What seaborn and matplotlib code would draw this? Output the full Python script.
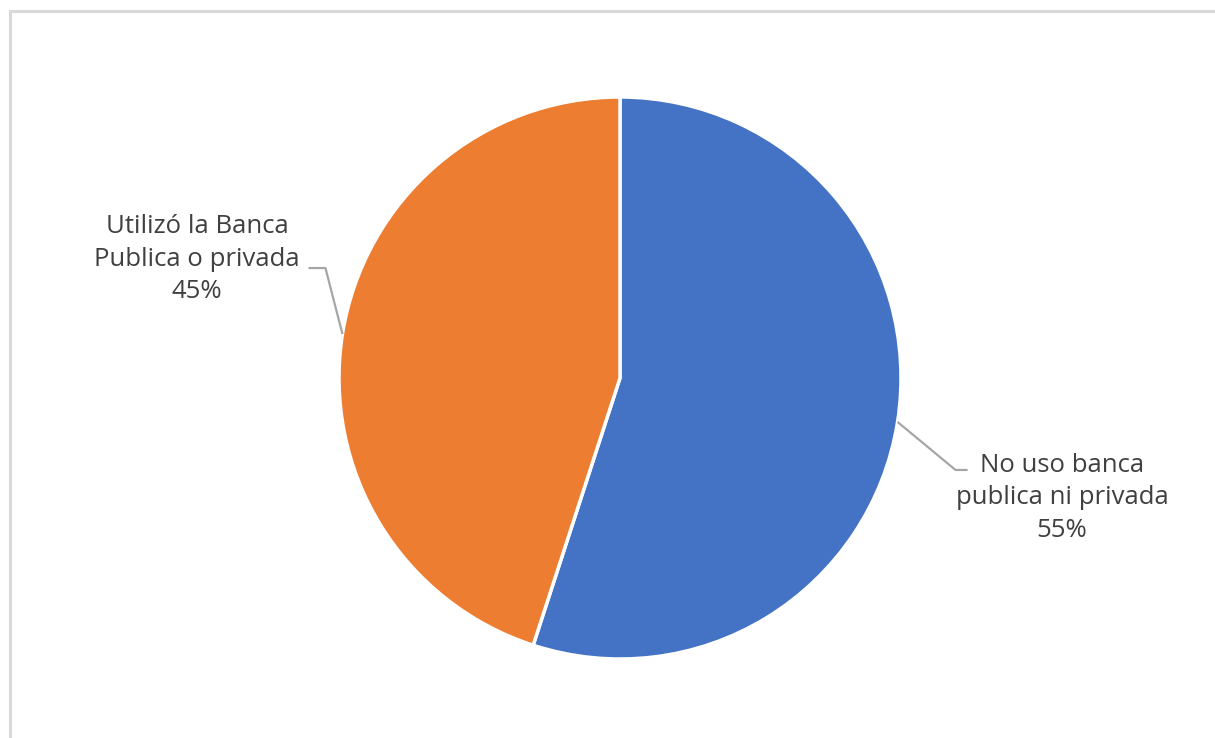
import numpy as np
import matplotlib
matplotlib.use('Agg')
import matplotlib.pyplot as plt
import seaborn as sns
from matplotlib.patches import Rectangle

sns.set_style('white')
plt.rcParams['font.family'] = ['Open Sans', 'DejaVu Sans']

# data
labels = ['No uso banca\npublica ni privada', 'Utilizó la Banca\nPublica o privada']
shares = [55, 45]
colors = ['#4472C4', '#ED7D31']

W, H = 1215, 738
fig = plt.figure(figsize=(W / 100, H / 100), dpi=100)
ax = fig.add_axes([0, 0, 1, 1])
ax.set_xlim(0, W)
ax.set_ylim(0, H)
ax.set_aspect('equal')
ax.axis('off')

# chart frame (light grey, only left/top visible)
ax.add_patch(Rectangle((9.5, -20), 1400, H - 10.5 + 20, fill=False,
                       edgecolor='#d9d9d9', lw=2.2, clip_on=False))

cx, cy, r = 620, H - 378, 281
wedges, _ = ax.pie(shares, colors=colors, startangle=90, counterclock=False,
                   center=(cx, cy), radius=r, frame=True,
                   wedgeprops=dict(edgecolor='white', linewidth=2.5))
ax.set_xlim(0, W)
ax.set_ylim(0, H)
ax.axis('off')

# leader lines + labels
# (elbow offset, text position) per slice
layout = [((58, -48, 12), (1062, H - 498)),
          ((-17, 66, -17), (197, H - 259))]
for w, lab, s, (off, tpos) in zip(wedges, labels, shares, layout):
    mid = np.deg2rad((w.theta1 + w.theta2) / 2)
    x0, y0 = cx + r * np.cos(mid), cy + r * np.sin(mid)
    dx, dy, hx = off
    x1, y1 = x0 + dx, y0 + dy
    ax.plot([x0, x1, x1 + hx], [y0, y1, y1], color='#a6a6a6', lw=1.6,
            solid_capstyle='butt')
    ax.text(tpos[0], tpos[1], f'{lab}\n{s}%', ha='center', va='center',
            multialignment='center', fontsize=18.5, color='#404040',
            linespacing=1.42)

fig.savefig('out.png', dpi=100)
